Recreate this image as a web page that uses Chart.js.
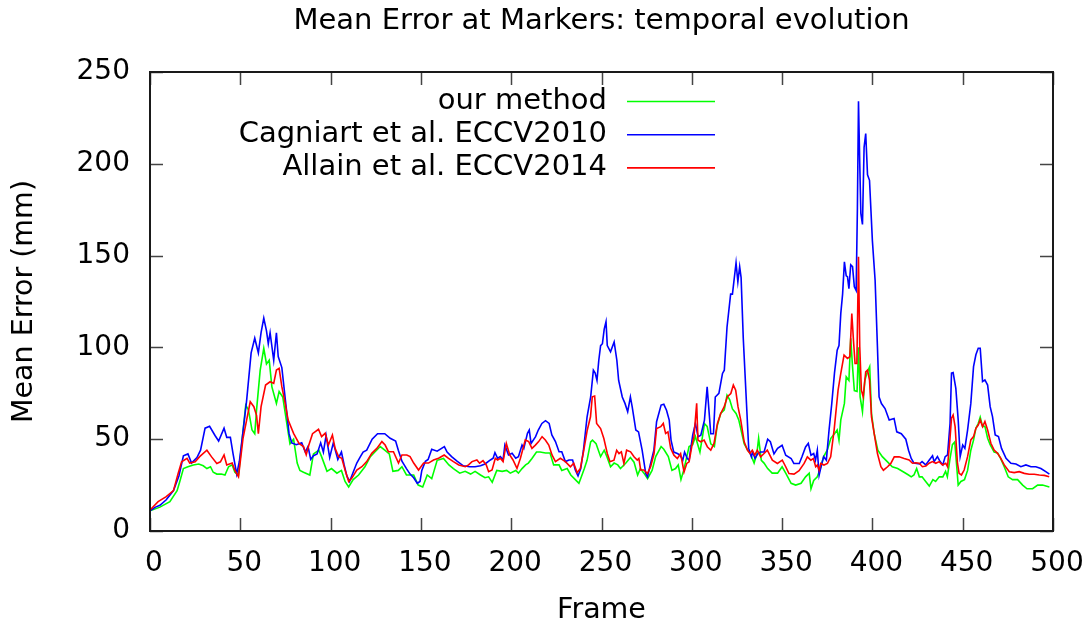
<!DOCTYPE html>
<html><head><meta charset="utf-8">
<script src="https://cdn.jsdelivr.net/npm/chart.js@4.4.1/dist/chart.umd.min.js"></script>
<style>html,body{margin:0;padding:0;background:#fff}#wrap{width:1086px;height:628px}</style>
</head><body><div id="wrap"><canvas id="c" width="1086" height="628"></canvas></div>
<script>
const chartTitle = 'Mean Error at Markers: temporal evolution';
const xTitle = 'Frame';
const yTitle = 'Mean Error (mm)';
const seriesLabels = ['our method', 'Cagniart et al. ECCV2010', 'Allain et al. ECCV2014'];
const seriesColors = ['#00ff00', '#0000ff', '#ff0000'];

// [frame, mean error in mm]
const ourMethod = [[0,11],[5.5,13],[11,16],[15,22],[16.5,27],[18.5,34],[21,35],[24,36],[27,36.5],[29.5,35.5],[31.5,34],[33.5,35],[35,32],[37,31],[39.5,31],[41.5,30.5],[43.5,35],[45.5,36],[47,32],[49,30.5],[51,49.5],[53,68.5],[54.5,66],[56.5,55],[58,53],[59,66],[61,87.5],[63,99.5],[64.5,91],[66,93],[67.5,78.5],[70,69.5],[71.5,76],[73.5,73],[76,57],[77.5,47.5],[79.5,50],[81.5,37],[83,33],[85,32],[88.5,30.5],[90.5,42],[93.5,44],[95,40.5],[98,32.5],[100.5,34],[103.5,31.5],[106,33],[108,27],[110,24],[112.5,28],[115.5,30.5],[119,35],[122,40.5],[124.5,43],[127.5,46],[130,44],[132.5,42],[134.5,32.5],[137.5,33],[139.5,35],[142,30.5],[146,30.5],[148.5,25],[151,24],[153.5,30.5],[156,28.5],[159,38.5],[162.5,39.5],[165.5,36],[168,34],[171.5,31.5],[174.5,32.5],[177.5,31],[180,32.5],[183,30.5],[185.5,29],[187.5,29.5],[189.5,26.5],[192,33],[195,32.5],[197.5,33],[199.5,31.5],[202.5,33],[204,31.5],[206,34],[208,36],[209.5,37],[211.5,39.5],[214,43],[216,43],[219,42.5],[221.5,42.5],[223.5,36],[226.5,36],[228,33],[231,34],[233,30.5],[235.5,28],[237.5,26],[239,30],[240.5,34],[242,38.5],[244,48.5],[245,49.5],[247,47.5],[249.5,40.5],[251.5,44],[253,40.5],[255,35],[257,37],[259,36],[260.5,34],[263.5,37],[266,40],[268,37.5],[270,30.5],[271.5,34],[273.5,31.5],[275.5,28.5],[278,33],[280,40.5],[283,46],[284.5,44.5],[287,40.5],[289,33],[291,34],[292.5,36],[294,28],[295.5,33],[298.5,46],[300.5,47],[302,51.5],[304.5,43],[306,52],[307,58.5],[308.5,57],[310.5,47.5],[312.5,46],[314,57],[316,64],[318,66],[319.5,74],[321,71.5],[322.5,66.5],[324.5,64],[326,60.5],[329,47.5],[331,44],[332.5,42],[334.5,37],[336,42],[337,50.5],[338.5,38.5],[340,37],[342,34],[344.5,31.5],[347.5,31.5],[350,35],[352,31.5],[355,26],[357.5,25],[360.5,26],[363,29.5],[365,31.5],[366,23],[367.5,27.5],[369.5,29.5],[371.5,35],[373,40.5],[375,44],[377,50.5],[379,53],[380.5,55],[381.5,49.5],[382.5,60.5],[384.5,69.5],[385.5,84],[387,82],[388,105],[389,89.5],[390,76.5],[391.5,76],[392.3,100],[393.2,73],[394.5,65],[395.8,82],[397,86],[398.5,89.5],[399.5,64],[401,53],[403,44],[405.5,40.5],[408.5,37.5],[411,35],[414,34],[417.5,32],[420,30.5],[421.5,29.5],[423,30.5],[424.5,34],[426,29.5],[427.5,29.5],[429.5,27],[431.5,24.5],[433.5,28],[435,27],[437,29.5],[439,29.5],[440.5,32.5],[441.5,29.5],[443,39.5],[444.3,47],[445.6,48.5],[446.7,35],[447.5,25],[449,27],[451,28],[452.7,33],[454.5,44],[456,49.5],[457.3,56],[458.6,58.5],[459.7,62],[461,57],[462.3,57],[463.8,50.5],[465.2,47],[467.4,43],[469.3,42.5],[471,39.5],[473,35],[475.2,29.5],[477.6,28],[480.4,28],[483.2,25],[485.6,23],[488.7,23],[491.5,25],[494.2,25],[498,24]];

const cagniart = [[0,11],[3,13],[5.5,14],[9,17],[13,22],[16,30],[18.5,41],[21,42],[23,37],[26,40],[28,44],[30.5,56],[33,57],[36,52],[38,49],[41,56],[42.5,51],[44.5,51],[46,42],[48,31],[49.5,38],[51,50],[53.5,71],[56,97],[58,105],[60,97],[61.5,108],[63,116],[64.5,109],[65.5,102],[66.5,108],[68.5,93],[70,108],[71,95],[73,89],[75,71],[77,53],[78.5,48],[81,47],[84,48],[86,43],[87.5,46],[89,39],[90.5,41],[92.5,42],[94.5,48],[96,43],[97.5,52],[99.5,40],[101.5,48],[104,39],[106,43],[107.5,36],[109,30],[110.5,27],[112.5,32],[114.5,37],[116.5,40.5],[118,43],[120,44],[123,50],[126,53],[130,53],[133,50.5],[136,49],[137.5,44],[139.5,38],[142,34],[144,31],[146,29],[148,26],[149.5,27],[150.5,33],[152.5,38],[154,39],[156,44.5],[159,43.5],[163,46],[164.5,43],[167,40.5],[170,38],[173.5,35.5],[177,35],[180,35],[183,35.5],[185.5,36.5],[188.5,38.7],[190,39.6],[191,42.7],[192.5,39.6],[194,40.5],[195.5,38.7],[196.5,46.8],[198.5,41.4],[200.5,42.3],[202.5,39.6],[204,40.5],[206,46.8],[207,45],[209,53.2],[210,55],[211,47.7],[213.5,51.4],[215,55],[217,58.6],[219,60.1],[221,58.6],[222.5,52.3],[224.5,48.7],[226.5,43.2],[228,43.2],[230,37.8],[232,38.7],[234,38.7],[235.5,33.2],[237,30],[238.5,34],[240,44],[242,62],[244,73],[245.5,87.6],[246.5,86],[247.5,82],[248.5,93],[249.5,101],[250.5,102],[251.5,110],[252.5,114],[253.2,101],[255,97.6],[257,103],[258.5,93],[259.5,82],[261.5,73],[263,69.5],[264.5,65],[266,73],[267,67.6],[269,55],[270.5,54],[272.5,44],[274.5,31.3],[275.5,29.5],[277,36],[279,44],[280.5,59.5],[283,68.6],[284.5,69],[286,65.8],[287.5,60.4],[288.5,49.5],[290,43],[292,42.2],[293.5,41.3],[295,38.6],[296,43],[297.5,39.5],[298.5,38.6],[300.5,52.2],[302,58.6],[303.5,51.3],[305,52.2],[307,60.4],[308.5,78.5],[310.5,53],[312,53],[313,73],[315,75],[317,85.8],[318,87.6],[319.5,111],[321.5,129],[322.5,129],[324.5,146],[325.5,135.7],[326.5,144],[327.3,138],[328.5,105],[330,75],[331.5,45],[333,40.5],[333.7,43],[335,39.5],[336.5,42],[338,43],[340,43],[342,50],[343.5,48.6],[345.5,42],[347.5,45],[350,46.7],[352,41.3],[355,39.5],[356.5,36.8],[359.5,36.8],[361,40.4],[363,45.8],[364.5,47.7],[366,41.3],[367.5,42.2],[368.5,38.6],[369.5,44],[370.5,30.4],[372,36.8],[373,40.4],[374.5,38.6],[376,55],[377.5,69.4],[379,86],[380.5,98.5],[381.5,101],[382.5,118.5],[383.5,129],[384.5,146.6],[385.5,139],[386.2,138.5],[387,132],[388,145],[389,144],[390,133],[391,131],[391.7,176],[392.3,234],[393,200],[393.6,173],[394.5,167],[395.4,209],[396.3,216.5],[397.3,194],[398.4,191],[400,158],[401.5,136.6],[402.8,100],[403.7,73],[405,69.4],[407,66.7],[409.3,60.4],[412,61.3],[413.5,54],[416,53],[418.5,50],[420,44],[421.5,39.5],[423,37],[426,36.5],[427.5,37.8],[429.5,36],[431.5,38.7],[433.3,41],[434.2,37.8],[436,40.5],[437.5,37.8],[439,36],[440.3,40.5],[441.6,41.4],[443,58.7],[443.8,86],[444.7,86.3],[446.2,77.7],[447.5,60.5],[448.6,40.5],[450,46.8],[451.2,45],[452.7,55],[454.5,69.5],[456,89.5],[457.3,96],[458.6,99.5],[459.7,99.5],[461,81.4],[462.3,82.3],[463.8,79.5],[465.2,67.7],[466.5,62.3],[468,52.3],[469.8,51.4],[471.5,45],[474,39.6],[476.7,36.9],[479.5,36.5],[482.2,35],[485,36],[487.8,35],[490.5,35],[493.3,34],[496,32.3],[498,31]];

const allain = [[0,11.4],[4.5,16],[9,18.7],[13,22],[15.5,31],[17.5,37.7],[20.5,39.6],[22,37],[25,37.7],[27.5,40.5],[31.5,44],[34,40.5],[37,36.8],[39,37.7],[41,41.4],[42.5,36],[45.5,37],[47,33],[49,29.6],[51.5,50.5],[53.5,60.4],[55.5,70.4],[57.5,67.7],[59,63],[60,53],[61.5,67.7],[64,79.5],[66.5,81.3],[68.5,80.4],[70,87.7],[71.5,88.6],[73,78.6],[74.5,71.3],[76.5,60.4],[79.5,53.2],[82.5,47.7],[85,46],[86.5,41.5],[88,47],[90,53],[93.3,55.4],[95,51.4],[97,53.2],[98.8,46.8],[101,52.3],[102.5,45],[104.4,40.5],[106.2,39.6],[108,33.2],[110,27],[111.7,28.7],[114.5,33.2],[117.3,35],[120,37.8],[122.8,42.3],[125.6,45],[128.4,48.7],[130.2,46.8],[132,43.2],[134.8,43.2],[137.6,37],[139.5,41.4],[142.2,41.4],[144,40.5],[146,37],[148.7,33.2],[151.5,37],[154.2,37],[157,38.7],[159.8,39.6],[162.9,41.4],[165.3,39.6],[168,37.8],[171,36],[174.6,35],[176.4,36],[178.3,37.8],[181,38.7],[182.5,36.9],[184.4,38.3],[186.2,36],[187.5,32.3],[189.4,33.2],[191.2,39.6],[192.5,38.7],[194,39.6],[195.5,37.8],[197.3,47.7],[199.2,41.4],[201,38.7],[203.2,34.1],[205.1,39.6],[207.8,49.6],[209.7,48.7],[211.5,45],[213.4,46.8],[215.2,48.7],[217.1,51.4],[218.9,49.6],[220.8,46.8],[222.6,41.4],[224.5,37.8],[227.2,39.6],[230,37.8],[232.8,35],[234.6,36.9],[236.5,31.8],[238.3,34.1],[240.2,44],[242.1,54.9],[243.9,62.2],[244.9,73.1],[246.2,73.5],[247.3,58.6],[249.5,55.8],[251.3,50.4],[253.2,42.2],[254.7,37.7],[256.9,38.6],[258.4,44],[259.7,42.2],[261,43.1],[262.4,36.8],[263.9,44],[266.1,43.1],[268,40.4],[269.8,38.6],[270.7,39.5],[271.7,33.2],[273.5,33.2],[275.4,31.3],[277.2,35],[279.1,42.2],[280.5,55.8],[282.8,56.8],[284.2,58.6],[285.5,53.1],[286.8,54],[288.3,45],[290.1,41.3],[292,39.5],[293.8,42.2],[295.7,32.2],[297.2,36.8],[298.5,37.7],[300.3,47.7],[301.2,51.3],[302.7,69.5],[303.4,49.5],[304.9,48.6],[306.8,49.5],[308.6,45.9],[310.5,44],[312.3,47.7],[314.2,58.6],[316,64],[317.9,67.6],[319.7,73.1],[321.6,74.9],[323,79.5],[324.3,76.7],[325.6,67.6],[327.1,60.4],[329,48.6],[330.8,44],[332.2,42.2],[333.5,44],[334.8,41.3],[336.3,44],[338.1,40.4],[340,42.2],[341.8,44],[344.6,38.6],[347.4,36.8],[350.1,38.6],[352,35],[353.8,31.3],[356.6,31],[359.4,32.8],[362.2,36.8],[364,40.4],[365.9,38.6],[367.3,39.5],[368.6,35],[369.5,35.9],[370.5,33.1],[371.4,36.8],[373.2,35.9],[375.1,36.8],[376.9,40.4],[378.8,54.9],[381,76.7],[382.5,85.8],[384.3,95.8],[386.2,94],[387.5,94.9],[388.6,118.5],[389.5,104],[390.4,91.2],[391.4,91.2],[392.3,149.4],[393,100.3],[393.9,76.7],[394.9,73.1],[396.3,86.7],[397.3,87.6],[398.4,82.2],[399.5,62.2],[401,53.1],[402.8,42.2],[404.7,35],[406.1,33.1],[408.4,35],[410.2,36.8],[412.1,40.4],[414.8,40.4],[417.6,39.5],[420.3,38.7],[422.2,36.9],[424,37.2],[425.9,36.9],[427.7,35],[429.6,35.4],[431.4,36.9],[433.3,37.8],[435.1,36.9],[437,37.8],[438.8,36],[440.6,36.9],[441.6,35],[442.9,49.6],[443.8,61.4],[444.7,63.2],[445.8,56.8],[447.1,36.9],[448,31.4],[449.3,30.5],[450.8,33.2],[452.7,40.5],[454.5,49.6],[456,51.4],[457.3,55.9],[458.6,57.7],[459.7,60.5],[461,56.8],[462.3,59.6],[463.8,55],[465.6,47.8],[467.4,44.1],[469.3,42.3],[471.1,39.6],[473,36],[475.8,32.3],[478.5,31.8],[481.3,32.3],[484.1,31.4],[486.8,30.9],[489.6,30.9],[492.4,30.5],[495.2,30.3],[497.9,29.6]];

const xTickStep = 50, xMin = 0, xMax = 500;
const yTickStep = 50, yMin = 0, yMax = 250;

const FONT = "'DejaVu Sans', 'Liberation Sans', sans-serif";
const seriesData = [ourMethod, cagniart, allain];

const framePlugin = {
  id: 'gnuFrame',
  afterDraw(chart) {
    const {ctx, chartArea: a, scales: {x, y}} = chart;
    ctx.save();
    // inward ticks on all four sides
    ctx.strokeStyle = '#444';
    ctx.lineWidth = 1.5;
    ctx.beginPath();
    x.ticks.forEach(t => {
      const px = Math.round(x.getPixelForValue(t.value)) + 0.5;
      ctx.moveTo(px, a.bottom); ctx.lineTo(px, a.bottom - 13);
      ctx.moveTo(px, a.top); ctx.lineTo(px, a.top + 13);
    });
    y.ticks.forEach(t => {
      const py = Math.round(y.getPixelForValue(t.value)) + 0.5;
      ctx.moveTo(a.left, py); ctx.lineTo(a.left + 13, py);
      ctx.moveTo(a.right, py); ctx.lineTo(a.right - 13, py);
    });
    ctx.stroke();
    // border
    ctx.strokeStyle = '#1a1a1a';
    ctx.lineWidth = 2;
    ctx.strokeRect(a.left, a.top, a.right - a.left, a.bottom - a.top);
    // legend (gnuplot style: right-aligned text, sample line at right)
    ctx.font = '29px ' + FONT;
    ctx.textAlign = 'right';
    ctx.textBaseline = 'middle';
    const rowY0 = 101.5, rowStep = 33.2;
    chart.data.datasets.forEach((ds, i) => {
      const ry = rowY0 + i * rowStep;
      ctx.fillStyle = '#000';
      ctx.fillText(ds.label, 607, ry);
      ctx.strokeStyle = ds.borderColor;
      ctx.lineWidth = 1.6;
      ctx.beginPath();
      ctx.moveTo(627, ry); ctx.lineTo(715, ry);
      ctx.stroke();
    });
    ctx.restore();
  }
};

new Chart(document.getElementById('c'), {
  type: 'line',
  data: {
    datasets: seriesLabels.map((lab, i) => ({
      label: lab,
      data: seriesData[i].map(([f, v]) => ({x: f, y: v})),
      borderColor: seriesColors[i],
      borderWidth: 1.6,
      pointRadius: 0,
      tension: 0,
      fill: false,
      order: 3 - i
    }))
  },
  options: {
    responsive: false,
    animation: false,
    devicePixelRatio: 1,
    layout: {padding: {left: 0, right: 33, top: 0, bottom: 0}},
    plugins: {
      legend: {display: false},
      tooltip: {enabled: false},
      title: {
        display: true, text: chartTitle, fullSize: false,
        color: '#000', font: {family: FONT, size: 29, weight: 'normal'},
        padding: {top: 4.3, bottom: 32.9}
      }
    },
    scales: {
      x: {
        type: 'linear', min: xMin, max: xMax,
        ticks: {stepSize: xTickStep, color: '#000', font: {family: FONT, size: 28}, padding: 15.5, labelOffset: 4, maxRotation: 0, autoSkip: false},
        grid: {drawOnChartArea: false, drawTicks: false},
        border: {display: false},
        title: {display: true, text: xTitle, color: '#000', font: {family: FONT, size: 28.5}, padding: {top: 0, bottom: 0}},
        afterFit: s => { s.height = 97; s.paddingLeft = 0; s.paddingRight = 0; }
      },
      y: {
        type: 'linear', min: yMin, max: yMax,
        ticks: {stepSize: yTickStep, color: '#000', font: {family: FONT, size: 28}, padding: 20},
        grid: {drawOnChartArea: false, drawTicks: false},
        border: {display: false},
        title: {display: true, text: yTitle, color: '#000', font: {family: FONT, size: 28.5}, padding: {top: 7, bottom: 0}},
        afterFit: s => { s.width = 150; s.paddingTop = 0; s.paddingBottom = 0; }
      }
    }
  },
  plugins: [framePlugin]
});
</script>
</body></html>
